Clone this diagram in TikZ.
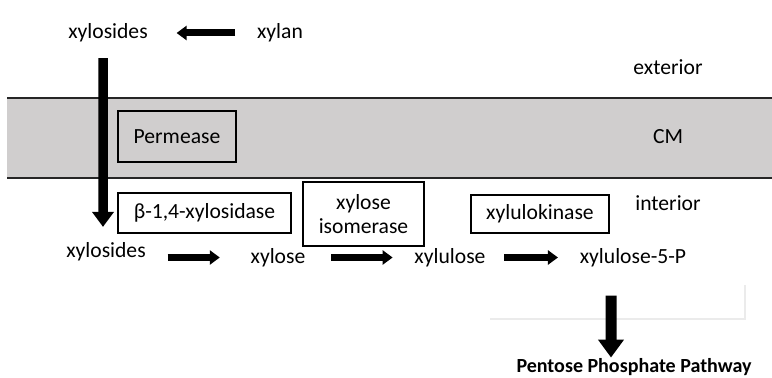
\documentclass[tikz,border=0pt]{standalone}
\usepackage{fontspec}
\setmainfont{Carlito}
\usepackage{tikz}
\usetikzlibrary{arrows.meta, positioning, calc}
\definecolor{membranegrey}{HTML}{D0CECE}

\begin{document}
\begin{tikzpicture}[x=0.02cm, y=-0.02cm,
  lbl/.style={font=\fontsize{12.3}{14}\selectfont, inner sep=2pt},
  enzyme/.style={draw=black, line width=0.8pt, rectangle, align=center,
                 font=\fontsize{12.3}{14}\selectfont, inner sep=0pt},
  flow/.style={line width=0.14cm, -{Triangle[length=0.2cm, width=0.28cm]}},
  bigflow/.style={line width=0.22cm, -{Triangle[length=0.36cm, width=0.5cm]}},
  longflow/.style={line width=0.19cm, -{Triangle[length=0.3cm, width=0.42cm]}},
]
\useasboundingbox (0,0) rectangle (772,378);

%% Cell membrane band
\fill[membranegrey] (7,98) rectangle (772,178);
\draw[line width=1.1pt, black!85] (7,98) -- (772,98);
\draw[line width=1.1pt, black!85] (7,178) -- (772,178);

%% Compartment labels
\node[lbl] (ext) at (668,67)  {exterior};
\node[lbl] (cm)  at (668,137) {CM};
\node[lbl] (int) at (668,203) {interior};

%% Outside the cell
\node[lbl] (xylA) at (108,33) {xylosides};
\node[lbl] (xyn)  at (280,33) {xylan};

%% Enzymes
\node[enzyme, fill=membranegrey, minimum width=2.36cm, minimum height=1.02cm]
  (perm) at (177,136.5) {Permease};
\node[enzyme, minimum width=3.46cm, minimum height=0.8cm]
  (bxyl) at (204.5,213) {β-1,4-xylosidase};
\node[enzyme, minimum width=2.42cm, minimum height=1.28cm]
  (xiso) at (363.5,214) {xylose\\isomerase};
\node[enzyme, minimum width=2.76cm, minimum height=0.76cm]
  (xkin) at (540,214) {xylulokinase};

%% Metabolites inside the cell
\node[lbl] (xylB) at (106,252) {xylosides};
\node[lbl] (xyl)  at (278,257.5) {xylose};
\node[lbl] (xlu)  at (450,257.5) {xylulose};
\node[lbl] (x5p)  at (633,257.5) {xylulose-5-P};
\node[font=\fontsize{11.4}{13}\selectfont\bfseries, inner sep=2pt]
  (ppp) at (634,367) {Pentose Phosphate Pathway};

%% faint frame left under xylulose-5-P
\draw[black!8, line width=0.6pt] (745,285) -- (745,319) -- (490,319);

%% Conversions
\draw[flow] ([xshift=-0.36cm]xyn.west) -- ([xshift=0.5cm]xylA.east);
\draw[longflow] ([xshift=-0.1cm, yshift=-0.24cm]xylA.south)
  -- ([xshift=-0.06cm, yshift=0.24cm]xylB.north);
\draw[flow] ([xshift=0.36cm]xylB.east |- xyl.west) -- ([xshift=-0.54cm]xyl.west);
\draw[flow] ([xshift=0.44cm]xyl.east)  -- ([xshift=-0.36cm]xlu.west);
\draw[flow] ([xshift=0.3cm]xlu.east)   -- ([xshift=-0.36cm]x5p.west);
\draw[bigflow] ([xshift=-0.44cm, yshift=-0.5cm]x5p.south)
  -- ([xshift=-0.46cm, yshift=-0.06cm]ppp.north);
\end{tikzpicture}
\end{document}
